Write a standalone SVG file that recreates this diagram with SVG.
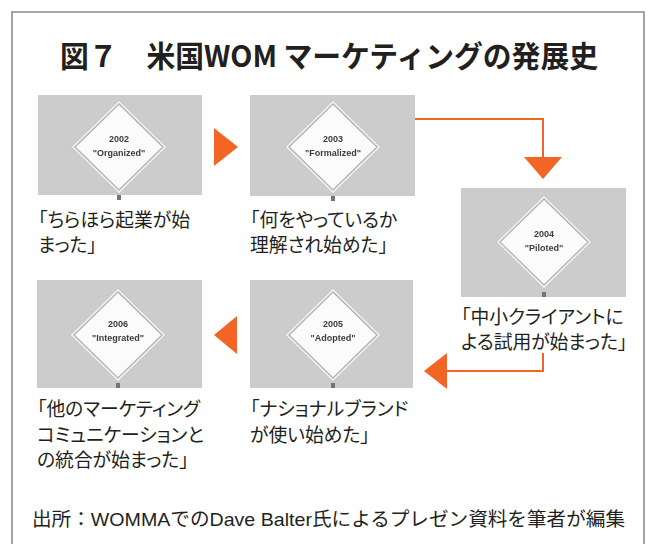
<svg xmlns="http://www.w3.org/2000/svg" width="654" height="544" viewBox="0 0 654 544">
  <style>
    .frame{fill:none;stroke:#8c8c8c;stroke-width:1.6}
    .title{font-family:"Noto Sans CJK JP","Noto Sans CJK SC",sans-serif;font-weight:700;font-size:30px;fill:#231f20}
    .cap{font-family:"Noto Sans CJK JP","Noto Sans CJK SC",sans-serif;font-size:18.8px;fill:#231f20;font-feature-settings:"palt"}
    .photo{fill:#cccccc}
    .post{fill:#757575}
    .sign-t{font-family:"Liberation Sans",sans-serif;font-weight:700;font-size:9px;fill:#3c3c3c;text-anchor:middle}
    .link{fill:none;stroke:#f26524;stroke-width:2}
    .head{fill:#f26524}
    .src{font-family:"Liberation Sans","Noto Sans CJK JP",sans-serif;font-size:19px;fill:#231f20}
  </style>
  <defs>
    <filter id="soft" x="-5%" y="-5%" width="110%" height="110%">
      <feGaussianBlur stdDeviation="0.65"/>
    </filter>
    <!-- road-sign diamond, centred on the origin -->
    <g id="diamond">
      <polygon points="0,-47 48,0 0,47 -48,0" fill="#ececec" stroke="#bdbdbd" stroke-width="0.8"/>
      <polygon points="0,-43 44,0 0,43 -44,0" fill="#fbfbfb" stroke="#b0b0b0" stroke-width="1.2"/>
    </g>
  </defs>

  <rect width="654" height="544" fill="#ffffff"/>
  <path class="frame" d="M12,548 V12 H644 V548"/>

  <g id="title">
    <text class="title" x="60" y="67" textLength="538" lengthAdjust="spacingAndGlyphs">図７　米国WOM マーケティングの発展史</text>
  </g>

  <g id="node-2002">
    <g filter="url(#soft)">
      <rect class="photo" x="38" y="95" width="164" height="100"/>
      <use href="#diamond" x="119" y="147"/>
      <text class="sign-t" x="119" y="142">2002</text>
      <text class="sign-t" x="119" y="156">"Organized"</text>
      <rect class="post" x="117" y="195" width="4" height="5"/>
    </g>
    <text class="cap"><tspan x="38" y="227">「ちらほら起業が始</tspan><tspan x="38" y="252">まった」</tspan></text>
  </g>

  <g id="node-2003">
    <g filter="url(#soft)">
      <rect class="photo" x="250" y="95" width="165" height="101"/>
      <use href="#diamond" x="333" y="147"/>
      <text class="sign-t" x="333" y="142">2003</text>
      <text class="sign-t" x="333" y="156">"Formalized"</text>
      <rect class="post" x="331" y="196" width="4" height="5"/>
    </g>
    <text class="cap"><tspan x="250" y="227">「何をやっているか</tspan><tspan x="250" y="252">理解され始めた」</tspan></text>
  </g>

  <g id="node-2004">
    <g filter="url(#soft)">
      <rect class="photo" x="461" y="188" width="165" height="109"/>
      <use href="#diamond" x="544" y="242"/>
      <text class="sign-t" x="544" y="237">2004</text>
      <text class="sign-t" x="544" y="251">"Piloted"</text>
      <rect class="post" x="542" y="292" width="4" height="5"/>
    </g>
    <text class="cap"><tspan x="461" y="324">「中小クライアントに</tspan><tspan x="461" y="349">よる試用が始まった」</tspan></text>
  </g>

  <g id="node-2005">
    <g filter="url(#soft)">
      <rect class="photo" x="250" y="280" width="163" height="108"/>
      <use href="#diamond" x="333" y="335"/>
      <text class="sign-t" x="333" y="327">2005</text>
      <text class="sign-t" x="333" y="341">"Adopted"</text>
      <rect class="post" x="331" y="383" width="4" height="5"/>
    </g>
    <text class="cap"><tspan x="250" y="416">「ナショナルブランド</tspan><tspan x="250" y="442">が使い始めた」</tspan></text>
  </g>

  <g id="node-2006">
    <g filter="url(#soft)">
      <rect class="photo" x="37" y="280" width="165" height="108"/>
      <use href="#diamond" x="118" y="335"/>
      <text class="sign-t" x="118" y="327">2006</text>
      <text class="sign-t" x="118" y="341">"Integrated"</text>
      <rect class="post" x="116" y="383" width="4" height="5"/>
    </g>
    <text class="cap"><tspan x="37" y="416">「他のマーケティング</tspan><tspan x="37" y="442">コミュニケーションと</tspan><tspan x="37" y="467">の統合が始まった」</tspan></text>
  </g>

  <g id="connectors">
    <!-- 2002 to 2003 -->
    <polygon class="head" points="214,128 238,147 214,166"/>
    <!-- 2003 to 2004 -->
    <path class="link" d="M415,119 H543 V158"/>
    <polygon class="head" points="524,157 562,157 543,179"/>
    <!-- 2004 to 2005 -->
    <path class="link" d="M543,353 V371 H446"/>
    <polygon class="head" points="447,353 447,389 424,371"/>
    <!-- 2005 to 2006 -->
    <polygon class="head" points="237,316 237,354 214,335"/>
  </g>

  <g id="source">
    <text class="src" x="32" y="526" textLength="593" lengthAdjust="spacingAndGlyphs">出所：WOMMAでのDave Balter氏によるプレゼン資料を筆者が編集</text>
  </g>
</svg>
